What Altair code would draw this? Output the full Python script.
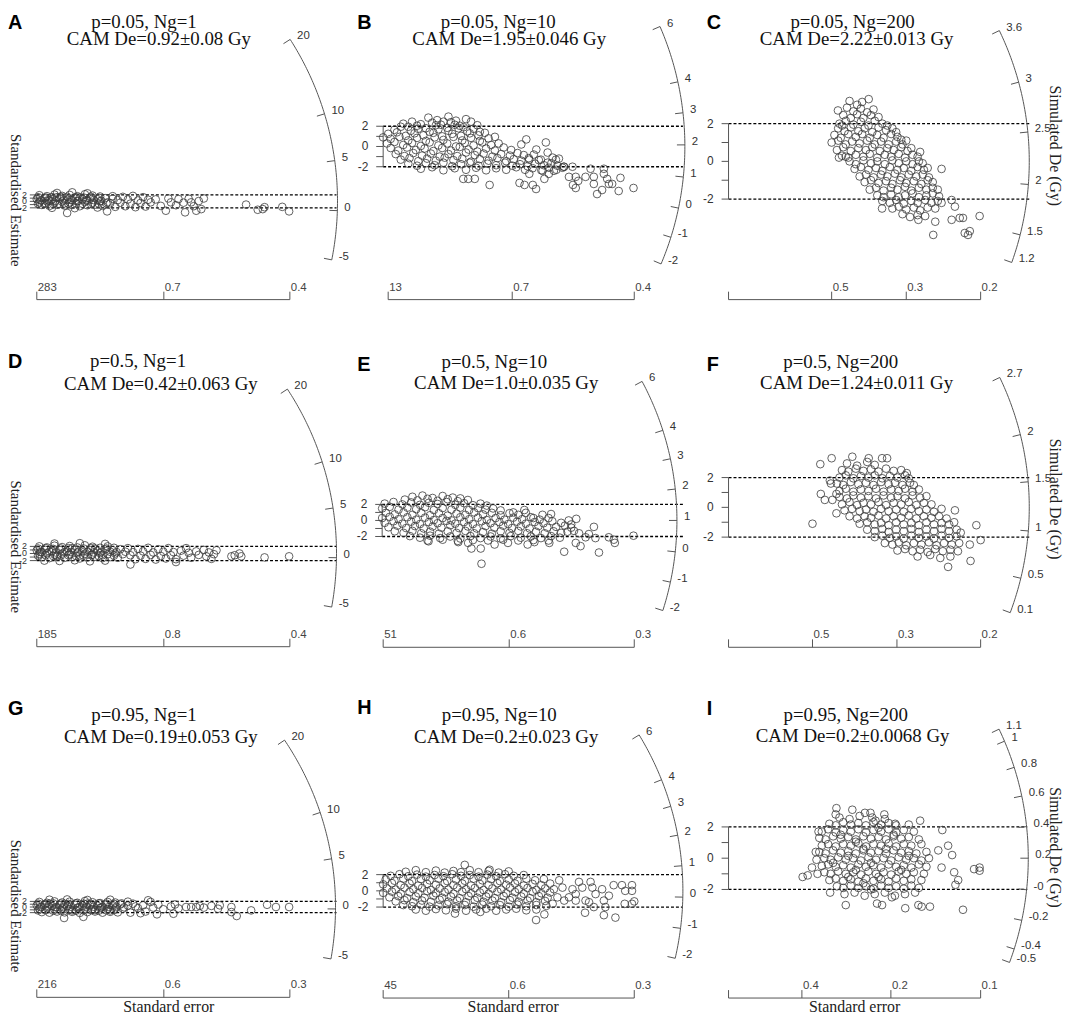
import math
import altair as alt
import pandas as pd

# ------------------------------------------------------------------
# Values
# points: (x = precision as % of the bottom-axis length, z = standardised estimate)
# ------------------------------------------------------------------
PANEL_KEYS = ["A", "B", "C", "D", "E", "F", "G", "H", "I"]

TITLE_LINE1 = ["p=0.05, Ng=1", "p=0.05, Ng=10", "p=0.05, Ng=200",
               "p=0.5, Ng=1", "p=0.5, Ng=10", "p=0.5, Ng=200",
               "p=0.95, Ng=1", "p=0.95, Ng=10", "p=0.95, Ng=200"]
TITLE_LINE2 = ["CAM De=0.92\u00b10.08 Gy", "CAM De=1.95\u00b10.046 Gy", "CAM De=2.22\u00b10.013 Gy",
               "CAM De=0.42\u00b10.063 Gy", "CAM De=1.0\u00b10.035 Gy", "CAM De=1.24\u00b10.011 Gy",
               "CAM De=0.19\u00b10.053 Gy", "CAM De=0.2\u00b10.023 Gy", "CAM De=0.2\u00b10.0068 Gy"]
CAM_DE = [0.92, 1.95, 2.22, 0.42, 1.0, 1.24, 0.19, 0.2, 0.2]

ARC_TICKS = [
    [20, 10, 5, 0, -5],
    [6, 4, 3, 2, 1, 0, -1, -2],
    [3.6, 3, 2.5, 2, 1.5, 1.2],
    [20, 10, 5, 0, -5],
    [6, 4, 3, 2, 1, 0, -1, -2],
    [2.7, 2, 1.5, 1, 0.5, 0.1],
    [20, 10, 5, 0, -5],
    [6, 4, 3, 2, 1, 0, -1, -2],
    [1.1, 1, 0.8, 0.6, 0.4, 0.2, 0, -0.2, -0.4, -0.5],
]
ARC_LABELS = [
    ["20", "10", "5", "0", "-5"],
    ["6", "4", "3", "2", "1", "0", "-1", "-2"],
    ["3.6", "3", "2.5", "2", "1.5", "1.2"],
    ["20", "10", "5", "0", "-5"],
    ["6", "4", "3", "2", "1", "0", "-1", "-2"],
    ["2.7", "2", "1.5", "1", "0.5", "0.1"],
    ["20", "10", "5", "0", "-5"],
    ["6", "4", "3", "2", "1", "0", "-1", "-2"],
    ["1.1", "1", "0.8", "0.6", "0.4", "0.2", "-0", "-0.2", "-0.4", "-0.5"],
]
# bottom (standard error) axis: tick positions (fraction of axis) and labels
SE_TICK_POS = [
    [0.0, 0.502, 1.0], [0.02, 0.514, 1.0], [0.0, 0.409, 0.705, 1.0],
    [0.0, 0.502, 1.0], [0.004, 0.504, 1.0], [0.0, 0.333, 0.668, 1.0],
    [0.0, 0.502, 1.0], [0.0, 0.5, 1.0], [0.0, 0.291, 0.644, 1.0],
]
SE_TICK_LABELS = [
    ["283", "0.7", "0.4"], ["13", "0.7", "0.4"], ["", "0.5", "0.3", "0.2"],
    ["185", "0.8", "0.4"], ["51", "0.6", "0.3"], ["", "0.5", "0.3", "0.2"],
    ["216", "0.6", "0.3"], ["45", "0.6", "0.3"], ["", "0.4", "0.2", "0.1"],
]
Z_TICKS = [-2, -1, 0, 1, 2]
Z_LABELS = [2, 0, -2]

A_PTS = [(1,1.9),(4,1.6),(7,2.1),(10,1.7),(13,2.0),(16,1.6),(19,2.2),(22,1.8),(25,1.5),
 (0,0.7),(3,1.0),(6,0.6),(9,0.9),(12,0.5),(15,1.0),(18,0.7),(21,0.9),(24,0.6),(27,1.0),(30,0.8),
 (1,-0.3),(4,0.0),(7,-0.4),(10,-0.1),(13,-0.3),(16,0.1),(19,-0.2),(22,-0.4),(25,0.0),(28,-0.3),
 (2,-1.1),(5,-1.4),(8,-1.0),(11,-1.3),(14,-1.1),(17,-1.5),(20,-1.2),(23,-1.0),(26,-1.4),
 (8,2.6),(14,2.8),(20,2.5),(6,-2.0),(15,-2.1),(24,-1.9),
 (2,0.3),(5,0.2),(8,1.3),(11,-0.6),(14,0.4),(17,1.2),(20,0.2),(3,-0.7),(9,-0.8),(18,-0.7),(12,1.4),(6,1.3),
 (0.5,1.3),(3.5,1.2),(9.5,1.4),(15.5,1.3),(18.5,1.2),(21.5,1.4),(24.5,1.1),
 (1.5,0.3),(4.5,0.4),(7.5,0.2),(10.5,0.3),(13.5,0.4),(16.5,0.2),(19.5,0.3),(22.5,0.4),(25.5,0.2),
 (0.5,-0.7),(3.5,-0.6),(6.5,-0.8),(12.5,-0.7),(15.5,-0.6),(21.5,-0.8),(24.5,-0.7),(27.5,-0.6),
 (30,1.6),(34,1.4),(38,1.7),(42,1.3),(32,0.4),(36,0.6),(40,0.3),(44,0.5),(29,-0.6),(33,-0.4),(37,-0.7),
 (41,-0.5),(45,-0.3),(31,-1.7),(35,-1.5),(39,-1.8),(43,-1.6),(27.8,-3.1),
 (47,0.6),(49,-1.4),(51,-2.9),(52,0.9),(53,-0.3),(55,-1.2),(56,0.7),(58,-0.4),(58.6,-3.4),(60,0.8),
 (61,-0.3),(63,-2.9),(64,0.1),(65,-2.4),(66,0.9),(62,-1.5),
 (82.7,-1.0),(87.3,-2.6),(89.3,-2.4),(90,-1.8),(97,-1.7),(99.7,-3.1),(12,-3.6)]

B_PTS = [(18,2.85),(21.5,2.6),(26,2.95),(33,2.7),(29,2.55),(24,2.45),
 (8,2.25),(11.5,2.45),(15,2.2),(19.5,2.35),(23,2.15),(27,2.4),(30.5,2.05),(35,2.45),(37.5,2.1),
 (10,1.95),(13.5,2.05),(17,1.8),(21,2.1),(25.5,1.85),(28.5,2.15),(32,1.9),
 (4.5,1.65),(7,1.95),(11,1.55),(14,1.75),(18.5,1.45),(22,1.7),(26,1.55),(30,1.8),(33.5,1.5),(36,1.75),(38.5,1.45),
 (2,1.25),(5.5,1.4),(9,1.05),(12.5,1.3),(16,1.1),(20,1.35),(23.5,1.0),(27.5,1.25),(31,1.05),(34.5,1.3),(38,1.1),(40.5,1.35),
 (0,0.9),(3,0.75),(6.5,0.95),(10,0.6),(13.5,0.85),(17,0.55),(20.5,0.9),(24,0.65),(28,0.95),(31.5,0.6),(35,0.85),
 (38.5,0.55),(42,0.8),(44.5,0.95),
 (1.5,0.3),(4.5,0.45),(8,0.15),(11.5,0.35),(15,0.05),(18.5,0.4),(22,0.1),(25.5,0.3),(29,0.0),(32.5,0.35),(36,0.1),
 (39.5,0.4),(43,0.15),(46,0.3),
 (3,-0.15),(6,-0.4),(9.5,-0.1),(13,-0.35),(16.5,-0.2),(20,-0.45),(23.5,-0.15),(27,-0.4),(30.5,-0.05),(34,-0.3),
 (37.5,-0.5),(41,-0.2),(44.5,-0.4),(48,-0.1),(51,-0.35),
 (5,-0.75),(8.5,-0.95),(12,-0.65),(15.5,-0.9),(19,-0.7),(22.5,-1.0),(26,-0.75),(29.5,-0.95),(33,-0.6),(36.5,-0.85),
 (40,-0.7),(43.5,-1.0),(47,-0.75),(50.5,-0.9),(53.5,-0.65),(56,-0.85),
 (7,-1.3),(10.5,-1.15),(14,-1.45),(17.5,-1.2),(21,-1.4),(24.5,-1.1),(28,-1.35),(31.5,-1.2),(35,-1.5),(38.5,-1.25),
 (42,-1.4),(45.5,-1.15),(49,-1.45),(52,-1.25),(55,-1.4),(58,-1.15),(62,-1.35),
 (10,-1.7),(13.5,-1.9),(17,-1.65),(20.5,-1.85),(24,-1.6),(27.5,-1.95),(31,-1.75),(34.5,-1.6),(38,-1.9),(41.5,-1.7),
 (45,-1.85),(48.5,-1.6),(51.5,-1.9),(54.5,-1.75),(57.5,-1.95),(60.5,-1.7),(64,-1.85),(67,-1.65),
 (15,-2.2),(19.5,-2.05),(24,-2.35),(28.5,-2.15),(33,-2.3),(37,-2.1),(41,-2.35),(45,-2.15),(49,-2.3),(53,-2.05),
 (56.5,-2.3),(59.5,-2.15),(63,-2.35),(66,-2.1),(69,-2.3),(72,-2.0),
 (57,0.7),(61,-0.3),(64.8,0.4),(65.5,-0.6),(67.5,-1.1),(68.8,-1.3),(69.4,-1.9),(68,-2.4),(63.5,-2.4),(58.2,-1.3),
 (58.2,-2.7),(66,-2.7),(62.8,-1.3),(65.5,-1.6),(71.4,-2.1),(55,0.2),(60,-0.8),(70,-1.2),
 (31.9,-3.2),(33.9,-3.2),(36.5,-3.2),(42.4,-3.8),(54.3,-3.6),(56.3,-3.8),(59.6,-3.8),(60.9,-4.2),(64.2,-3.2),
 (72,-2.0),(75.4,-2.0),(74,-3.0),(76.7,-3.0),(75.6,-3.8),(76.7,-4.1),(77.7,-3.4),(80.6,-3.0),(82.6,-2.2),
 (83.9,-3.0),(83.9,-3.7),(85.2,-4.7),(87.2,-4.3),(87.9,-2.7),(87.9,-2.2),(89.2,-3.2),(89.9,-3.7),(91.2,-3.7),
 (93.8,-4.4),(94.5,-3.1),(99.7,-4.1)]

C_PTS = [(48,3.2),(51,3.0),(53,3.15),(55.6,3.3),(43.4,2.7),
 (47,2.85),(49.5,2.65),(52.5,2.8),(55,2.6),(57.5,2.75),
 (45.5,2.45),(48.5,2.3),(51,2.5),(53.5,2.3),(56.5,2.45),(59.5,2.35),
 (44,2.0),(46.5,2.15),(49.5,1.95),(52.5,2.1),(55.5,1.9),(58,2.15),(61,2.0),(63,1.9),
 (43.5,1.75),(46,1.6),(48.5,1.8),(51.5,1.6),(54,1.75),(57,1.55),(59.5,1.8),(62.5,1.65),(65,1.75),(66.5,1.55),
 (42,1.4),(44.5,1.25),(47.5,1.45),(50.5,1.3),(53,1.45),(56,1.25),(59,1.4),(61.5,1.25),(64.5,1.45),(67,1.3),(68.5,1.15),
 (40.9,1.0),(43.5,1.1),(46.5,0.9),(49,1.05),(52,0.95),(55,1.1),(58,0.9),(60.5,1.05),(63.5,0.9),(66.5,1.05),(69,0.9),(70.5,1.1),
 (43,0.6),(45.5,0.75),(48.5,0.55),(51.5,0.7),(54.5,0.6),(57,0.75),(60,0.55),(63,0.7),(65.5,0.6),(68.5,0.75),(71,0.55),(72.5,0.7),
 (45,0.3),(47.5,0.2),(50.5,0.35),(53.5,0.25),(56,0.4),(59,0.2),(62,0.35),(64.5,0.25),(67.5,0.4),(70,0.2),(73,0.35),(75,0.25),
 (48,0.0),(50.5,-0.15),(53.5,0.05),(56.5,-0.1),(59,0.0),(62,-0.15),(65,0.05),(67.5,-0.1),(70.5,0.0),(73,-0.15),(75.5,0.0),(77,-0.1),
 (50,-0.4),(52.5,-0.3),(55.5,-0.45),(58.5,-0.35),(61,-0.5),(64,-0.3),(67,-0.45),(69.5,-0.35),(72.5,-0.5),(75,-0.3),(77.5,-0.45),(79,-0.35),
 (52,-0.8),(54.5,-0.7),(57.5,-0.85),(60.5,-0.7),(63,-0.8),(66,-0.65),(68.5,-0.85),(71.5,-0.7),(74.5,-0.8),(77,-0.7),(79.5,-0.85),
 (54,-1.1),(56.5,-1.0),(59.5,-1.15),(62.5,-1.05),(65,-1.2),(68,-1.0),(70.5,-1.15),(73.5,-1.05),(76.5,-1.2),(79,-1.0),(81,-1.1),
 (56,-1.5),(58.5,-1.4),(61.5,-1.55),(64.5,-1.4),(67,-1.5),(70,-1.35),(72.5,-1.55),(75.5,-1.4),(78.5,-1.5),(81,-1.4),(83,-1.5),
 (59,-1.8),(61.5,-1.9),(64.5,-1.75),(67.5,-1.9),(70,-1.8),(73,-1.7),(75.5,-1.9),(78.5,-1.8),(81,-1.7),(83.5,-1.85),
 (61,-2.1),(64,-2.2),(66.5,-2.05),(69.5,-2.25),(72.5,-2.1),(75,-2.2),(78,-2.05),(80.5,-2.2),(83,-2.1),(84.5,-2.2),
 (65,-2.5),(67.5,-2.4),(70.5,-2.55),(73.5,-2.45),(76,-2.6),(79,-2.45),(82,-2.5),
 (69,-2.8),(72,-2.95),(75,-2.85),(78,-2.9),
 (43.8,0.2),(46.5,0.25),(45.1,1.9),(84.5,-0.4),(88.5,-2.05),(89.8,-2.4),(88.5,-3.1),(91.7,-3.0),(93,-3.0),
 (99.6,-2.9),(81.2,-3.9),(93.7,-3.8),(95,-3.9),(95.7,-3.7),(60.9,-2.5),(76,0.5),(75.3,-3.1),(82,-3.2)]

D_PTS = [(1,2.0),(4,1.7),(7,2.2),(10,1.8),(13,2.1),(16,1.7),(19,2.3),(22,1.9),(25,1.6),(28,2.0),
 (0,0.9),(3,1.1),(6,0.7),(9,1.0),(12,0.6),(15,1.1),(18,0.8),(21,1.0),(24,0.7),(27,1.1),(30,0.9),(33,1.2),
 (1,-0.1),(4,0.1),(7,-0.3),(10,0.0),(13,-0.2),(16,0.2),(19,-0.1),(22,-0.3),(25,0.1),(28,-0.2),(31,0.0),(34,-0.2),
 (2,-1.0),(5,-1.3),(8,-0.9),(11,-1.2),(14,-1.0),(17,-1.4),(20,-1.1),(23,-0.9),(26,-1.3),(29,-1.0),(32,-1.2),
 (3,-2.0),(9,-2.1),(15,-1.9),(21,-2.2),(27,-2.0),(7,2.8),(17,2.9),(27,2.7),
 (2,0.4),(5,0.5),(8,-0.6),(11,0.4),(14,1.5),(17,-0.6),(20,0.5),(23,1.4),(26,-0.5),(29,0.5),
 (0.5,1.4),(3.5,1.5),(6.5,1.3),(9.5,1.4),(12.5,1.5),(18.5,1.4),(21.5,1.5),(27.5,1.4),(30.5,1.6),
 (1.5,0.4),(7.5,0.3),(13.5,0.4),(16.5,0.5),(22.5,0.3),(25.5,0.5),(31.5,0.4),
 (0.5,-0.6),(3.5,-0.5),(6.5,-0.7),(9.5,-0.6),(12.5,-0.5),(15.5,-0.7),(18.5,-0.6),(21.5,-0.5),(24.5,-0.7),(30.5,-0.6),
 (36,1.5),(40,1.3),(44,1.6),(48,1.2),(52,1.5),(35,0.5),(38,0.4),(42,0.6),(46,0.3),(50,0.5),(54,0.4),
 (37,-0.5),(41,-0.6),(45,-0.4),(49,-0.7),(53,-0.5),(39,-1.6),(43,-1.5),(47,-1.7),(51,-1.4),(55,-1.6),
 (37,-3.1),(55,-2.4),
 (57,0.8),(58,-0.6),(60,0.2),(61,-1.2),(63,0.6),(64,-0.4),(66,1.0),(67,-0.8),(68,0.3),(70,-0.2),(71,0.9),
 (69,-1.5),(59,1.5),
 (76.9,-0.8),(78.2,-0.5),(80.1,0.0),(80.8,-0.8),(90,-1.1),(99.7,-0.8)]

E_PTS = [(12,2.95),(16,3.1),(20,2.8),(24,3.05),(28,2.85),(31,2.75),(9,2.6),(14,2.5),(18,2.7),(22,2.45),(26,2.65),
 (30,2.4),(34,2.55),
 (1,2.1),(4.5,2.3),(8,2.0),(11.5,2.25),(15,1.95),(18.5,2.2),(22,2.05),(25.5,2.3),(29,1.95),(32.5,2.15),(36,1.9),
 (39,2.1),(41.5,1.85),
 (0,1.5),(3,1.7),(6.5,1.35),(10,1.6),(13.5,1.4),(17,1.65),(20.5,1.3),(24,1.55),(27.5,1.35),(31,1.6),(34.5,1.3),
 (38,1.55),(41,1.35),(44,1.5),(47,1.25),
 (1.5,0.95),(5,0.75),(8.5,1.0),(12,0.7),(15.5,0.95),(19,0.65),(22.5,0.9),(26,0.6),(29.5,0.85),(33,0.7),(36.5,1.0),
 (40,0.75),(43.5,0.95),(47,0.65),(50.5,0.9),(54,0.7),(57,0.95),
 (0,0.3),(3,0.45),(6.5,0.15),(10,0.4),(13.5,0.1),(17,0.35),(20.5,0.05),(24,0.3),(27.5,0.0),(31,0.4),(34.5,0.15),
 (38,0.35),(41.5,0.05),(45,0.3),(48.5,0.1),(52,0.35),(55.5,0.15),(59,0.4),(62.5,0.1),(66,0.3),
 (1,-0.3),(4.5,-0.1),(8,-0.4),(11.5,-0.15),(15,-0.45),(18.5,-0.2),(22,-0.35),(25.5,-0.05),(29,-0.4),(32.5,-0.2),
 (36,-0.45),(39.5,-0.1),(43,-0.35),(46.5,-0.2),(50,-0.45),(53.5,-0.15),(57,-0.4),(60.5,-0.2),(64,-0.35),
 (67.5,-0.1),(71,-0.3),
 (2.5,-0.85),(6,-0.65),(9.5,-0.95),(13,-0.7),(16.5,-1.0),(20,-0.75),(23.5,-0.9),(27,-0.6),(30.5,-0.95),(34,-0.75),
 (37.5,-1.0),(41,-0.7),(44.5,-0.9),(48,-0.65),(51.5,-0.95),(55,-0.75),(58.5,-1.0),(62,-0.7),(65.5,-0.9),
 (69,-0.8),(72.5,-0.65),(75,-0.9),
 (5,-1.35),(8.5,-1.55),(12,-1.3),(15.5,-1.6),(19,-1.4),(22.5,-1.65),(26,-1.35),(29.5,-1.55),(33,-1.3),(36.5,-1.6),
 (40,-1.45),(43.5,-1.65),(47,-1.35),(50.5,-1.55),(54,-1.3),(57.5,-1.6),(61,-1.4),(64.5,-1.6),(68,-1.35),
 (71,-1.55),(73.5,-1.4),
 (11,-1.95),(15,-2.15),(19,-1.9),(23,-2.2),(27,-2.0),(31,-2.25),(35,-1.95),(39,-2.2),(43,-2.0),(47,-2.25),
 (51,-1.95),(55,-2.15),(59,-2.0),(63,-2.2),(67,-1.95),(70.5,-2.15),
 (18,-2.5),(24,-2.4),(30,-2.55),(36,-2.45),(42,-2.5),(48,-2.4),(54,-2.5),(60,-2.45),(66,-2.5),
 (56.4,1.3),(63.6,0.7),(67,0.8),(74,0.0),(60,0.3),(52,1.0),
 (35.4,-3.5),(39.1,-3.5),(39.4,-5.4),(44.6,-3.0),(49.9,-2.8),(57.7,-3.0),(60.4,-2.7),(66.3,-2.8),(72.2,-3.9),
 (30.2,-2.7),(34.1,-2.8),(18.4,-2.6),
 (76.1,-1.3),(76.8,-2.8),(78.1,-1.6),(78.7,-3.2),(80.7,-2.1),(82,-1.7),(84,-0.8),(84.6,-2.2),(86,-4.0),
 (89.9,-2.1),(91.9,-2.4),(92.3,-2.8),(99.7,-1.9),(75,-0.5),(77,0.2)]

F_PTS = [(47,2.95),(51,2.8),(55,3.05),(58,2.85),
 (45,2.5),(47.5,2.4),(50.5,2.6),(53.5,2.45),(56.5,2.55),(59.5,2.4),(62.5,2.6),(65.5,2.45),(68.5,2.5),
 (44,2.0),(46.5,2.15),(49.5,1.95),(52.5,2.1),(55.5,2.0),(58,2.15),(61,1.95),(64,2.1),(67,2.0),(70,2.15),(71.5,1.95),
 (43,1.6),(45.5,1.5),(48.5,1.7),(51.5,1.55),(54.5,1.65),(57.5,1.5),(60.5,1.7),(63.5,1.55),(66,1.65),(69,1.5),(72,1.65),(73.5,1.5),
 (44,1.1),(46.5,1.25),(49.5,1.05),(52.5,1.2),(55.5,1.1),(58.5,1.25),(61.5,1.05),(64.5,1.2),(67.5,1.1),(70,1.25),(73,1.05),(75.5,1.2),
 (44,0.7),(47,0.6),(49.5,0.8),(52.5,0.65),(55.5,0.75),(58.5,0.6),(61.5,0.8),(64.5,0.65),(67,0.75),(70,0.6),(73,0.8),
 (76,0.65),(78.5,0.75),
 (45,0.2),(48,0.35),(51,0.15),(53.5,0.3),(56.5,0.2),(59.5,0.35),(62.5,0.15),(65.5,0.3),(68.5,0.2),(71.5,0.35),
 (74.5,0.15),(77.5,0.3),(80.5,0.2),
 (46,-0.2),(49,-0.1),(52,-0.25),(54.5,-0.15),(57.5,-0.3),(60.5,-0.1),(63.5,-0.25),(66.5,-0.15),(69.5,-0.3),
 (72.5,-0.1),(75.5,-0.25),(78.5,-0.15),(81.5,-0.3),(84.5,-0.1),
 (48,-0.6),(51,-0.75),(54,-0.6),(56.5,-0.7),(59.5,-0.55),(62.5,-0.75),(65.5,-0.6),(68.5,-0.7),(71.5,-0.55),
 (74.5,-0.75),(77.5,-0.6),(80.5,-0.7),(83.5,-0.6),(86.5,-0.75),
 (52,-1.1),(55,-1.0),(58,-1.15),(60.5,-1.05),(63.5,-1.2),(66.5,-1.0),(69.5,-1.15),(72.5,-1.05),(75.5,-1.2),
 (78.5,-1.0),(81.5,-1.15),(84.5,-1.05),(87.5,-1.15),
 (55,-1.5),(58,-1.6),(61,-1.45),(63.5,-1.65),(66.5,-1.5),(69.5,-1.6),(72.5,-1.45),(75.5,-1.65),(78.5,-1.5),
 (81.5,-1.6),(84.5,-1.45),(87.5,-1.6),(90.5,-1.5),
 (58,-2.0),(61,-1.9),(64,-2.05),(66.5,-1.95),(69.5,-2.1),(72.5,-1.9),(75.5,-2.05),(78.5,-1.95),(81.5,-2.1),
 (84.5,-1.9),(87.5,-2.05),(90.5,-1.95),
 (62,-2.4),(65,-2.5),(67.5,-2.35),(70.5,-2.55),(73.5,-2.4),(76.5,-2.5),(79.5,-2.35),(82.5,-2.55),(85.5,-2.4),
 (88.5,-2.5),(91.5,-2.4),
 (67,-2.9),(70,-2.8),(73,-2.95),(76,-2.85),(79,-3.0),(82,-2.8),(85,-2.95),(88,-2.85),(91,-2.95),
 (75,-3.3),(80,-3.2),(84,-3.4),(88,-3.3),
 (33.3,-1.1),(36.4,2.9),(36.6,0.9),(38.2,0.5),(40.9,3.3),(41.2,0.5),(42.8,0.9),(42.8,-0.4),(40.6,1.6),(40.2,1.8),
 (49.1,3.4),(55.6,3.3),(60.9,3.3),(62.9,3.3),(70.7,2.3),(89.8,-0.2),(89.5,-1.0),(98.3,-1.2),(100,-2.2),
 (95.7,-2.5),(96,-3.6),(87.1,-4.0),(92.1,-1.7)]

G_PTS = [(1,1.8),(4,1.5),(7,2.0),(10,1.6),(13,1.9),(16,1.5),(19,2.1),(22,1.7),(25,1.4),(28,1.8),(31,1.6),
 (0,0.6),(3,0.8),(6,0.4),(9,0.7),(12,0.3),(15,0.8),(18,0.5),(21,0.7),(24,0.4),(27,0.8),(30,0.6),(33,0.9),(36,0.5),
 (1,-0.6),(4,-0.4),(7,-0.8),(10,-0.5),(13,-0.7),(16,-0.3),(19,-0.6),(22,-0.8),(25,-0.4),(28,-0.7),(31,-0.5),(34,-0.6),
 (2,-1.8),(5,-2.0),(8,-1.6),(11,-1.9),(14,-1.7),(17,-2.1),(20,-1.8),(23,-1.6),(26,-2.0),(29,-1.7),(32,-1.9),
 (5,2.6),(12,2.7),(20,2.5),(29,2.6),
 (2,0.1),(5,1.2),(8,-0.1),(11,1.1),(14,-1.2),(17,0.0),(20,1.2),(23,-1.1),(26,0.1),(29,-1.2),
 (0.5,1.2),(3.5,1.1),(6.5,1.3),(9.5,1.2),(12.5,1.1),(15.5,1.3),(18.5,1.2),(21.5,1.1),(24.5,1.3),(27.5,1.2),
 (30.5,1.1),(33.5,1.3),
 (1.5,0.0),(4.5,0.1),(7.5,-0.1),(10.5,0.0),(13.5,0.1),(16.5,-0.1),(19.5,0.0),(22.5,0.1),(25.5,-0.1),(28.5,0.0),
 (31.5,0.1),(34.5,-0.1),
 (0.5,-1.2),(3.5,-1.1),(6.5,-1.3),(9.5,-1.2),(12.5,-1.1),(15.5,-1.3),(18.5,-1.2),(21.5,-1.1),(24.5,-1.3),(27.5,-1.2),(30.5,-1.1),
 (38,1.2),(40,-0.4),(42,0.6),(43,-1.6),(45,1.8),(46,-0.2),(48,0.9),(47.5,-2.6),(50,-0.8),(44,2.4),(37,-2.0),
 (41,-2.2),(39,0.2),(36,1.9),
 (10.8,-3.9),(18.4,-3.5),
 (53,0.2),(54.6,0.9),(54,-2.4),(59,0),(61,0),(63,0),(64.4,0.4),(69,0.4),(71.6,-0.6),(72.3,0.6),(76.9,0),
 (76.9,-1.8),(79,-3.2),(84.7,-1.2),(91,0.8),(94.5,0),(99.7,0),(56,-0.5),(66,-0.2)]

H_PTS = [(9,2.35),(13,2.55),(17,2.3),(21,2.5),(24.5,2.25),(28,2.45),(31,2.3),(34.5,2.55),(38,2.3),(42,2.45),(46,2.25),(50,2.4),
 (3,1.85),(6.5,2.05),(10,1.8),(13.5,2.0),(17,1.75),(20.5,1.95),(24,1.8),(27.5,2.05),(31,1.85),(34.5,1.95),(38,1.75),
 (41.5,2.0),(45,1.8),(48.5,2.05),(52,1.85),(56,1.95),
 (1,1.4),(4.5,1.25),(8,1.5),(11.5,1.2),(15,1.45),(18.5,1.3),(22,1.5),(25.5,1.2),(29,1.4),(32.5,1.25),(36,1.5),
 (39.5,1.3),(43,1.45),(46.5,1.2),(50,1.4),(53.5,1.25),(57,1.5),(60.5,1.3),(64,1.45),
 (0,0.8),(3.5,0.95),(7,0.7),(10.5,0.9),(14,0.65),(17.5,0.85),(21,0.75),(24.5,0.95),(28,0.7),(31.5,0.9),(35,0.65),
 (38.5,0.85),(42,0.7),(45.5,0.95),(49,0.75),(52.5,0.9),(56,0.65),(59.5,0.85),(63,0.7),(66.5,0.9),
 (1.5,0.3),(5,0.15),(8.5,0.4),(12,0.2),(15.5,0.35),(19,0.1),(22.5,0.3),(26,0.15),(29.5,0.4),(33,0.2),(36.5,0.35),
 (40,0.1),(43.5,0.3),(47,0.15),(50.5,0.4),(54,0.2),(57.5,0.35),(61,0.1),(64.5,0.3),(68,0.2),
 (0,-0.25),(3.5,-0.1),(7,-0.35),(10.5,-0.15),(14,-0.3),(17.5,-0.05),(21,-0.3),(24.5,-0.15),(28,-0.35),(31.5,-0.1),
 (35,-0.3),(38.5,-0.2),(42,-0.35),(45.5,-0.1),(49,-0.3),(52.5,-0.15),(56,-0.35),(59.5,-0.1),(63,-0.3),(66.5,-0.2),
 (2.5,-0.8),(6,-0.65),(9.5,-0.9),(13,-0.7),(16.5,-0.85),(20,-0.6),(23.5,-0.85),(27,-0.7),(30.5,-0.9),(34,-0.65),
 (37.5,-0.85),(41,-0.7),(44.5,-0.9),(48,-0.65),(51.5,-0.85),(55,-0.7),(58.5,-0.9),(62,-0.65),(65.5,-0.85),
 (5,-1.3),(8.5,-1.15),(12,-1.4),(15.5,-1.2),(19,-1.35),(22.5,-1.1),(26,-1.35),(29.5,-1.2),(33,-1.4),(36.5,-1.15),
 (40,-1.35),(43.5,-1.2),(47,-1.4),(50.5,-1.15),(54,-1.35),(57.5,-1.2),(61,-1.4),(64.5,-1.25),
 (8,-1.75),(11.5,-1.9),(15,-1.7),(18.5,-1.95),(22,-1.8),(25.5,-1.65),(29,-1.9),(32.5,-1.75),(36,-1.95),(39.5,-1.7),
 (43,-1.9),(46.5,-1.75),(50,-1.95),(53.5,-1.7),(57,-1.9),(61,-1.75),(65,-1.85),
 (13,-2.3),(17,-2.45),(21,-2.25),(25,-2.4),(29,-2.2),(33,-2.45),(37,-2.3),(41,-2.2),(45,-2.45),(49,-2.3),(53,-2.2),
 (57,-2.4),(61,-2.3),
 (32.5,3.2),(42.4,2.6),(60.9,-3.6),(64.2,-2.9),(28.6,-2.8),(38.7,-2.6),
 (70.1,1.3),(71.4,0.4),(72.1,-1.2),(74,-0.8),(75.4,0.2),(76.7,-0.4),(78,1.1),(79.3,0.4),(80.6,-1.2),(82.6,1.1),
 (83.3,0.4),(84.6,-0.4),(87.2,0.2),(87.9,-1.2),(88.5,-2.0),(89.9,-0.6),(91.8,0.7),(92.5,-3.3),(95.1,0.7),
 (96.2,-1.6),(96.4,0),(99.1,0.7),(99.1,0),(99.1,-1.6),(100,-1.3),(87.9,-3.0),(80.4,-2.7),(83.9,-2.0),(82,-1.4),
 (76.7,-1.2),(69.4,-0.8),(67.5,-1.6)]

I_PTS = [(44,2.6),(48,2.5),(52,2.7),(57,2.6),(62,2.5),
 (40,2.2),(42.5,2.1),(45.5,2.3),(48.5,2.15),(51.5,2.25),(54.5,2.1),(57.5,2.3),(60.5,2.15),(63.5,2.25),(66.5,2.1),(71.5,2.15),
 (37,1.7),(39.5,1.85),(42.5,1.65),(45.5,1.8),(48.5,1.7),(51.5,1.85),(54.5,1.65),(57.5,1.8),(60.5,1.7),(63.5,1.85),
 (66.5,1.65),(69.5,1.8),(73.5,1.7),
 (36,1.3),(38.5,1.2),(41.5,1.4),(44.5,1.25),(47.5,1.35),(50.5,1.2),(53.5,1.4),(56.5,1.25),(59.5,1.35),(62.5,1.2),
 (65.5,1.4),(68.5,1.25),(71.5,1.35),(75.5,1.2),
 (37,0.8),(39.5,0.9),(42.5,0.75),(45.5,0.9),(48.5,0.8),(51.5,0.95),(54.5,0.75),(57.5,0.9),(60.5,0.8),(63.5,0.95),
 (66.5,0.75),(69.5,0.9),(72.5,0.8),(76.5,0.9),
 (36,0.4),(38.5,0.3),(41.5,0.5),(44.5,0.35),(47.5,0.45),(50.5,0.3),(53.5,0.5),(56.5,0.35),(59.5,0.45),(62.5,0.3),
 (65.5,0.5),(68.5,0.35),(71.5,0.45),(74.5,0.3),(78.5,0.4),
 (38,0.0),(40.5,-0.1),(43.5,0.05),(46.5,-0.1),(49.5,0.0),(52.5,-0.15),(55.5,0.05),(58.5,-0.1),(61.5,0.0),(64.5,-0.15),
 (67.5,0.05),(70.5,-0.1),(73.5,0.0),(76.5,-0.15),(79.5,0.0),
 (37,-0.5),(39.5,-0.4),(42.5,-0.55),(45.5,-0.45),(48.5,-0.6),(51.5,-0.4),(54.5,-0.55),(57.5,-0.45),(60.5,-0.6),
 (63.5,-0.4),(66.5,-0.55),(69.5,-0.45),(72.5,-0.6),(75.5,-0.4),(78.5,-0.55),
 (38,-0.9),(40.5,-1.0),(43.5,-0.85),(46.5,-1.0),(49.5,-0.9),(52.5,-1.05),(55.5,-0.85),(58.5,-1.0),(61.5,-0.9),
 (64.5,-1.05),(67.5,-0.85),(70.5,-1.0),(73.5,-0.9),(77.5,-1.0),
 (40,-1.4),(42.5,-1.3),(45.5,-1.45),(48.5,-1.35),(51.5,-1.5),(54.5,-1.3),(57.5,-1.45),(60.5,-1.35),(63.5,-1.5),
 (66.5,-1.3),(69.5,-1.45),(72.5,-1.35),(76.5,-1.4),
 (43,-1.8),(45.5,-1.9),(48.5,-1.75),(51.5,-1.9),(54.5,-1.8),(57.5,-1.95),(60.5,-1.75),(63.5,-1.9),(66.5,-1.8),
 (69.5,-1.95),(72.5,-1.75),(75.5,-1.9),
 (46,-2.3),(50,-2.2),(54,-2.4),(58,-2.3),(62,-2.2),(66,-2.4),(70,-2.3),(74,-2.2),
 (44.5,1.5),(50.5,1.05),(53.5,0.6),(47.5,0.15),(56.5,-0.3),(50.5,-0.75),(59.5,-1.2),(53.5,-1.6),(62.5,0.6),
 (41.5,-0.3),(65.5,1.5),(68.5,-0.75),(47.5,-1.2),(59.5,1.95),(71.5,0.15),(56.5,-2.0),
 (29.4,-1.2),(31.4,-1.1),(33.1,-0.6),(34.6,0.4),(34.9,-0.1),(35.7,1.7),(35.3,-1.0),(40.3,-2.2),(42.8,3.2),
 (42.5,2.8),(49.1,3.1),(54.1,2.9),(56.3,2.9),(58.3,2.4),(61.8,2.8),(76,2.4),(66.1,2.2),(83.2,0.5),(84.5,-0.6),
 (84.8,1.8),(87.1,0.8),(88.7,0.2),(89.5,-0.9),(90,-1.7),(91.1,-1.4),(93,-3.3),(97.4,-0.7),(99.6,-0.6),
 (99.6,-0.8),(46.5,-3.0),(58.9,-2.9),(60.9,-3.0),(70.1,-3.2),(75.3,-3.0),(76.6,-3.1),(79.9,-3.1),(64.8,-2.5)]

POINTS = [A_PTS, B_PTS, C_PTS, D_PTS, E_PTS, F_PTS, G_PTS, H_PTS, I_PTS]

# ------------------------------------------------------------------
# Layout / styling (page pixel positions of each radial plot)
# ------------------------------------------------------------------
COL_X = [8, 360, 712]
COL_W = [352, 352, 360]
ROW_Y = [8, 340, 680]
ROW_H = [332, 340, 340]

GEO = [  # origin(ox, oy), px per unit x (axis length) and z, arc radius, arc slope k, dashed end, bottom axis y
    dict(ox=37, oy=199.0, sx=255, sy=3.25, R=303, k=0.0335, dash=339, ay=298.0, small=True),
    dict(ox=386, oy=143.7, sx=253, sy=10.2, R=304, k=0.107, dash=688, ay=298.0, small=False),
    dict(ox=734, oy=158.7, sx=254, sy=19.0, R=303, k=0.35, dash=1037, ay=298.0, small=False),
    dict(ox=37, oy=553.8, sx=255, sy=3.58, R=302, k=0.0335, dash=339, ay=647.7, small=True),
    dict(ox=385, oy=520.5, sx=254, sy=8.08, R=297, k=0.107, dash=688, ay=648.3, small=False),
    dict(ox=734, oy=507.3, sx=254, sy=15.0, R=303, k=0.328, dash=1037, ay=648.3, small=False),
    dict(ox=37, oy=910.0, sx=255, sy=2.83, R=301, k=0.034, dash=339, ay=1001.0, small=True),
    dict(ox=386, oy=893.7, sx=253, sy=8.17, R=302, k=0.105, dash=688, ay=1001.7, small=False),
    dict(ox=734, oy=860.8, sx=254, sy=15.75, R=302, k=0.53, dash=1035, ay=1001.7, small=False),
]
TITLE_POS = [((145, 24), (160, 41)), ((502, 24), (513, 41)), ((859, 24), (863, 41)),
             ((139, 366), (162, 389)), ((498, 367), (510, 388)), ((847, 367), (863, 388)),
             ((145, 723), (162, 745)), ((503, 723), (510, 745)), ((852, 723), (859, 744))]
LETTER_POS = [(8, 25), (360, 25), (712, 25), (8, 367), (360, 370), (712, 370),
              (8, 717), (360, 716), (712, 717)]
YTITLE_Y = [198, 547, 909]
DETITLE_Y = [143, 499, 850]
SETITLE_X = [170, 517, 861]

SERIF = "Liberation Serif"
SANS = "Liberation Sans"
INK = "#3a3a3a"
AXC = "#555555"


def build_panel(i):
    r, c = divmod(i, 3)
    cx0, cy0, W, H = COL_X[c], ROW_Y[r], COL_W[c], ROW_H[r]
    g = GEO[i]
    ox, oy, sx, sy, R, k = g["ox"], g["oy"], g["sx"], g["sy"], g["R"], g["k"]
    c0 = CAM_DE[i]

    def dx(px):
        return (px - ox) / sx

    def dy(py):
        return (oy - py) / sy

    xsc = alt.Scale(domain=[dx(cx0), dx(cx0 + W)], nice=False, zero=False)
    ysc = alt.Scale(domain=[dy(cy0 + H), dy(cy0)], nice=False, zero=False)

    def X(f="x"):
        return alt.X(f, type="quantitative", scale=xsc, axis=None)

    def Y(f="y"):
        return alt.Y(f, type="quantitative", scale=ysc, axis=None)

    layers = []

    # dashed +-2 lines
    dash_df = pd.DataFrame({"x": [0, 0], "x2": [dx(g["dash"])] * 2, "y": [2, -2]})
    layers.append(alt.Chart(dash_df).mark_rule(color="black", strokeWidth=1.3, strokeDash=[3, 2])
                  .encode(x=X(), x2="x2", y=Y()))

    # solid axis segments
    segs = []
    segs.append((0, -2, 0, 2))
    for v in Z_TICKS:
        segs.append((dx(ox - 7), v, 0, v))
    yax = dy(g["ay"])
    pos = SE_TICK_POS[i]
    segs.append((pos[0], yax, pos[-1], yax))
    for p in pos:
        segs.append((p, yax, p, dy(g["ay"] - 8)))
    ticks = ARC_TICKS[i]
    angs = [math.atan(k * (v - c0)) for v in ticks]
    for a in angs:
        segs.append((R * math.cos(a) / sx, R * math.sin(a) / sy,
                     (R - 8) * math.cos(a) / sx, (R - 8) * math.sin(a) / sy))
    seg_df = pd.DataFrame(segs, columns=["x", "y", "x2", "y2"])
    layers.append(alt.Chart(seg_df).mark_rule(color=AXC, strokeWidth=1)
                  .encode(x=X(), y=Y(), x2="x2", y2="y2"))

    # arc of the De scale
    n = 90
    arc = []
    for j in range(n):
        a = angs[0] + (angs[-1] - angs[0]) * j / (n - 1)
        arc.append((j, R * math.cos(a) / sx, R * math.sin(a) / sy))
    arc_df = pd.DataFrame(arc, columns=["o", "x", "y"])
    layers.append(alt.Chart(arc_df).mark_line(color=AXC, strokeWidth=1)
                  .encode(x=X(), y=Y(), order="o:Q"))

    # data points
    pts = pd.DataFrame(POINTS[i], columns=["pct", "z"])
    pts["x"] = pts["pct"] / 100.0
    pts["y"] = pts["z"]
    layers.append(alt.Chart(pts).mark_point(shape="circle", filled=False, size=60,
                                            strokeWidth=0.8, color=INK, opacity=1)
                  .encode(x=X(), y=Y()))

    # left z-axis labels
    small = g["small"]
    zl = pd.DataFrame({"x": [dx(ox - (10 if small else 15))] * 3, "y": Z_LABELS,
                       "t": [str(v) for v in Z_LABELS]})
    layers.append(alt.Chart(zl).mark_text(align="right", baseline="middle", font=SANS,
                                          fontSize=9 if small else 12, color="#333")
                  .encode(x=X(), y=Y(), text="t:N"))

    # bottom axis labels
    bl = pd.DataFrame({"x": pos, "y": [dy(g["ay"] - 9)] * len(pos), "t": SE_TICK_LABELS[i]})
    bl = bl[bl["t"] != ""]
    layers.append(alt.Chart(bl).mark_text(align="left", baseline="alphabetic", dx=1, font=SANS,
                                          fontSize=11.5, color="#444")
                  .encode(x=X(), y=Y(), text="t:N"))

    # arc labels
    al = pd.DataFrame({"x": [(R * math.cos(a) + 7) / sx for a in angs],
                       "y": [(R * math.sin(a) + 3) / sy for a in angs],
                       "t": ARC_LABELS[i]})
    layers.append(alt.Chart(al).mark_text(align="left", baseline="middle", font=SANS,
                                          fontSize=11.5, color="#333")
                  .encode(x=X(), y=Y(), text="t:N"))

    # titles
    (t1x, t1y), (t2x, t2y) = TITLE_POS[i]
    tl = pd.DataFrame({"x": [dx(t1x), dx(t2x)], "y": [dy(t1y), dy(t2y)],
                       "t": [TITLE_LINE1[i], TITLE_LINE2[i]]})
    layers.append(alt.Chart(tl).mark_text(align="center", baseline="alphabetic", font=SERIF,
                                          fontSize=19, color="#111")
                  .encode(x=X(), y=Y(), text="t:N"))

    # panel letter
    lx, ly = LETTER_POS[i]
    ld = pd.DataFrame({"x": [dx(lx)], "y": [dy(ly)], "t": [PANEL_KEYS[i]]})
    layers.append(alt.Chart(ld).mark_text(align="left", baseline="alphabetic", font=SANS,
                                          fontWeight="bold", fontSize=20, color="black")
                  .encode(x=X(), y=Y(), text="t:N"))

    # axis titles
    if c == 0:
        d = pd.DataFrame({"x": [dx(16)], "y": [dy(YTITLE_Y[r])], "t": ["Standardised Estimate"]})
        layers.append(alt.Chart(d).mark_text(align="center", baseline="middle", angle=90,
                                             font=SERIF, fontSize=15, color="#222")
                      .encode(x=X(), y=Y(), text="t:N"))
    if c == 2:
        d = pd.DataFrame({"x": [dx(1063)], "y": [dy(DETITLE_Y[r])], "t": ["Simulated De  (Gy)"]})
        layers.append(alt.Chart(d).mark_text(align="center", baseline="middle", angle=90,
                                             font=SERIF, fontSize=16, color="#222")
                      .encode(x=X(), y=Y(), text="t:N"))
    if r == 2:
        d = pd.DataFrame({"x": [dx(SETITLE_X[c])], "y": [dy(1016)], "t": ["Standard error"]})
        layers.append(alt.Chart(d).mark_text(align="center", baseline="alphabetic",
                                             font=SERIF, fontSize=16, color="#222")
                      .encode(x=X(), y=Y(), text="t:N"))

    return alt.layer(*layers).properties(width=W, height=H)


panels = [build_panel(i) for i in range(9)]

chart = alt.concat(*panels, columns=3, spacing=0, bounds="flush", align="each").properties(
    padding=0,
    background="white",
).configure_view(stroke=None)

chart.save("out.html", embed_options={"renderer": "svg", "actions": False})
